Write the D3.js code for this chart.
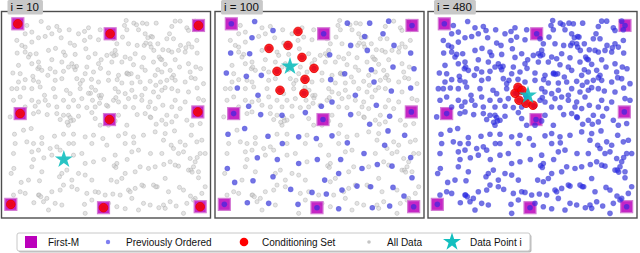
<!DOCTYPE html>
<html>
<head>
<meta charset="utf-8">
<script src="https://cdn.jsdelivr.net/npm/d3@7"></script>
<style>
  body { margin: 0; background: #fff; }
  svg { display: block; font-family: "Liberation Sans", Arial, sans-serif; }
</style>
</head>
<body>
<div id="chart"></div>
<script>
var svgWidth = 640;
var svgHeight = 253;

// point positions (units: x 9..636, y 33..654 across a panel)
var firstM = [[58,70],[335,100],[600,75],[65,340],[333,358],[598,335],[37,613],[315,623],[605,620]];

var ordered100 = [
  [128,63],[183,90],[120,112],[56,158],[113,160],[43,218],[103,228],[148,225],[76,263],[138,285],[110,318],
  [406,68],[473,68],[530,62],[513,100],[458,108],[416,135],[466,150],[546,135],[596,158],[353,163],[398,220],
  [356,238],[478,208],[543,200],[606,205],[486,245],[538,272],[596,263],[430,285],[360,305],[493,315],[328,318],
  [258,93],[171,144],[228,135],[270,171],[195,213],[306,204],[279,237],[204,270],[276,279],
  [146,343],[210,345],[280,337],[416,343],[533,348],[473,372],[98,385],[48,402],[168,408],[260,410],[313,415],
  [360,407],[528,392],[578,405],[211,430],[406,428],[518,435],[456,460],[136,473],[196,478],[260,490],[316,478],
  [386,478],[496,493],[540,498],[596,472],[46,505],[380,520],[450,505],[600,533],[183,530],[68,547],[123,542],
  [338,540],[236,568],[300,577],[343,582],[390,570],[435,558],[476,560],[543,562],[576,588],[106,608],[170,610],
  [258,613],[380,626],[481,623],[533,618]
];

var laterPoints = [
  [234,198],
  [85,75],[100,95],[80,100],[150,82],[175,78],[212,88],[240,100],[270,82],[305,88],[383,60],[378,75],[414,73],
  [432,68],[445,70],[420,88],[385,88],[462,110],[545,62],[520,78],[565,82],[570,90],[590,62],[595,88],
  [55,120],[70,135],[100,125],[140,108],[160,100],[188,112],[215,128],[258,120],[275,110],[262,145],[300,118],
  [345,115],[355,130],[372,110],[350,150],[390,130],[437,135],[455,130],[478,130],[505,115],[525,115],[570,130],
  [595,120],[493,148],[510,150],
  [80,155],[95,162],[150,150],[195,155],[200,165],[230,162],[290,160],[325,165],[380,170],[395,175],[410,160],
  [435,172],[465,185],[482,170],[490,178],[520,155],[540,150],[560,155],[580,140],[100,190],[120,185],[160,178],
  [190,185],[220,190],[265,200],[300,190],[340,185],[370,185],[405,193],[430,200],[500,192],[530,178],[570,190],
  [65,220],[130,210],[155,205],[170,215],[210,200],[230,208],[260,220],[285,215],[330,218],[360,225],[385,220],
  [418,230],[440,210],[470,225],[490,215],[515,210],[525,225],[575,215],[60,245],[80,238],[105,240],[120,245],
  [170,240],[190,235],[235,235],[245,250],[300,245],[330,240],[370,248],[400,248],[425,245],[455,243],[505,240],
  [530,240],[560,245],[590,235],
  [55,265],[100,265],[125,260],[165,265],[215,280],[245,265],[279,261],[350,265],[360,275],[380,280],[400,270],
  [410,290],[440,265],[465,275],[490,270],[520,265],[570,275],[45,300],[65,290],[100,300],[120,305],[140,300],
  [170,290],[195,300],[225,300],[250,295],[345,300],[390,295],[430,300],[455,305],[480,290],[530,300],[560,305],
  [600,295],[80,320],[150,315],[175,320],[210,320],[240,318],[265,322],[290,320],[380,320],[405,322],[450,320],
  [470,325],[520,320],[545,325],[270,279],[282,300],[303,309],[324,315],[291,270],
  [105,340],[120,335],[175,340],[195,345],[215,352],[225,360],[240,348],[290,355],[305,375],[330,375],[350,362],
  [360,345],[385,375],[440,340],[455,350],[490,360],[505,345],[520,365],[565,360],[580,375],[605,370],[210,375],
  [185,358],
  [75,390],[85,425],[105,430],[130,412],[195,402],[225,402],[285,405],[280,430],[325,435],[380,400],[405,410],
  [380,430],[435,405],[470,395],[500,400],[495,420],[545,425],[595,425],[610,420],[50,430],[130,430],[155,445],
  [175,440],[225,430],
  [45,460],[100,455],[120,450],[160,465],[185,450],[225,465],[250,460],[285,485],[350,465],[355,490],[400,455],
  [420,450],[490,460],[515,485],[525,445],[540,460],[555,455],[575,475],[590,485],[605,460],[560,435],[105,478],
  [100,500],[130,515],[190,520],[205,510],[220,540],[240,520],[260,525],[280,540],[355,545],[370,535],[410,515],
  [425,500],[470,500],[500,535],[530,495],[570,510],[585,500],[600,515],[90,540],
  [45,585],[65,575],[80,580],[120,585],[145,595],[160,575],[185,570],[195,555],[220,560],[265,580],[290,575],
  [320,585],[365,585],[395,575],[410,565],[430,555],[465,555],[510,575],[555,570],[590,595],[610,580],[135,605],
  [190,615],[280,600],[330,610],[355,620],[400,595],[435,610],[455,615],[495,615],[515,605],[565,610],[585,600],
  [500,625],
  [440,100],[448,112],[442,128],[458,140],[340,160],[346,166],[386,218],[391,222],[118,205],[122,200],[226,200],
  [80,140],[90,170],[308,178],[486,176],[562,142],[352,292],[302,286],[306,293],[592,200],[578,232],[520,232],
  [500,262],[472,255],[252,240],[217,362],[206,366],[457,352],[502,372],[347,497],[352,502],[577,510],[581,516],
  [122,585],[127,590],[472,560],[60,195],[40,265],[615,250],[615,300],[35,350],[620,460],[38,520],[620,560],
  [150,630],[420,630],[260,640],[555,640]
];

var notOrdered = [[309,285]];

var panelIndex = [10, 100, 480];
var dataPointI = [[196,478],[234,198],[309,285]];
var condSet100 = [[258,93],[171,144],[228,135],[270,171],[195,213],[306,204],[279,237],[204,270],[276,279]];
var condSet480 = [[279,261],[270,279],[282,300],[303,309],[324,315],[291,270]];
var condSets = [firstM, condSet100, condSet480];

var legendLabels = ["First-M", "Previously Ordered", "Conditioning Set", "All Data", "Data Point i"];

var panelX = [1.5, 215, 428];
var panelY = 11.5;
var panelW = 209;
var panelH = 206.5;

var svg = d3.select("#chart")
  .append("svg")
  .attr("width", svgWidth)
  .attr("height", svgHeight);

var xScale = d3.scaleLinear().domain([9, 636]).range([0, panelW]);
var yScale = d3.scaleLinear().domain([33, 654]).range([0, panelH]);

var starPath = d3.symbol().type(d3.symbolStar).size(100)();

var groups = [firstM, ordered100, laterPoints];
var allData = firstM.concat(ordered100, laterPoints, notOrdered);

panelIndex.forEach(function(idx, p) {
  var g = svg.append("g")
    .attr("transform", `translate(${panelX[p]}, ${panelY})`);

  g.append("rect")
    .attr("width", panelW)
    .attr("height", panelH)
    .attr("fill", "#fff")
    .attr("stroke", "#4d4d4d")
    .attr("stroke-width", 1.4);

  // all data
  g.append("g").selectAll("circle")
    .data(allData)
    .enter()
    .append("circle")
    .attr("cx", d => xScale(d[0]))
    .attr("cy", d => yScale(d[1]))
    .attr("r", 2.1)
    .attr("fill", "#d2d2d2")
    .attr("fill-opacity", 0.6)
    .attr("stroke", "#9a9a9a")
    .attr("stroke-opacity", 0.55)
    .attr("stroke-width", 0.6);

  // first-M squares
  g.append("g").selectAll("rect")
    .data(firstM)
    .enter()
    .append("rect")
    .attr("x", d => xScale(d[0]) - 6)
    .attr("y", d => yScale(d[1]) - 6)
    .attr("width", 12)
    .attr("height", 12)
    .attr("fill", "#bb00bb")
    .attr("fill-opacity", 0.85)
    .attr("stroke", "#d47ad4")
    .attr("stroke-width", 1.2);

  // previously ordered
  var prev = [];
  for (var k = 0; k <= p; k++) prev = prev.concat(groups[k]);
  g.append("g").selectAll("circle")
    .data(prev)
    .enter()
    .append("circle")
    .attr("cx", d => xScale(d[0]))
    .attr("cy", d => yScale(d[1]))
    .attr("r", 2.8)
    .attr("fill", "#2a2ae8")
    .attr("fill-opacity", 0.6);

  // conditioning set
  g.append("g").selectAll("circle")
    .data(condSets[p])
    .enter()
    .append("circle")
    .attr("cx", d => xScale(d[0]))
    .attr("cy", d => yScale(d[1]))
    .attr("r", 4.3)
    .attr("fill", "#ff0000")
    .attr("fill-opacity", 0.85)
    .attr("stroke", "#e00000")
    .attr("stroke-width", 0.8);

  // data point i
  g.append("path")
    .attr("d", starPath)
    .attr("transform", `translate(${xScale(dataPointI[p][0])}, ${yScale(dataPointI[p][1])})`)
    .attr("fill", "#12bfbf")
    .attr("fill-opacity", 0.9);

  // title box
  var title = g.append("g").attr("transform", "translate(6, -11.5)");
  var label = "i = " + idx;
  var txt = title.append("text")
    .attr("x", 3)
    .attr("y", 11)
    .attr("font-size", "11.5")
    .attr("fill", "#111")
    .text(label);
  var tw = txt.node().getComputedTextLength();
  title.insert("rect", "text")
    .attr("width", tw + 7)
    .attr("height", 14.5)
    .attr("rx", 1.5)
    .attr("fill", "#c8c8c8");
});

// legend
var legend = svg.append("g");
legend.append("rect")
  .attr("x", 18.5).attr("y", 234.5)
  .attr("width", 513).attr("height", 18)
  .attr("rx", 2)
  .attr("fill", "#bbb");
legend.append("rect")
  .attr("x", 17).attr("y", 233)
  .attr("width", 513).attr("height", 18)
  .attr("rx", 2)
  .attr("fill", "#fff")
  .attr("stroke", "#c8c8c8")
  .attr("stroke-width", 1);

var ly = 242;
var markerX = [31, 108, 244, 369, 452];
var textX = [48, 126, 262, 387, 470];

legend.append("rect")
  .attr("x", markerX[0] - 6).attr("y", ly - 6)
  .attr("width", 12).attr("height", 12)
  .attr("fill", "#bb00bb");
legend.append("circle")
  .attr("cx", markerX[1]).attr("cy", ly).attr("r", 2.2)
  .attr("fill", "#2a2ae8").attr("fill-opacity", 0.6);
legend.append("circle")
  .attr("cx", markerX[2]).attr("cy", ly).attr("r", 4.3)
  .attr("fill", "#ff0000");
legend.append("circle")
  .attr("cx", markerX[3]).attr("cy", ly).attr("r", 1.8)
  .attr("fill", "#c4c4c4");
legend.append("path")
  .attr("d", starPath)
  .attr("transform", `translate(${markerX[4]}, ${ly})`)
  .attr("fill", "#12bfbf");

legend.selectAll("text.lab")
  .data(legendLabels)
  .enter()
  .append("text")
  .attr("class", "lab")
  .attr("x", (d, i) => textX[i])
  .attr("y", ly + 3.6)
  .attr("font-size", "10")
  .attr("fill", "#111")
  .text(d => d);
</script>
</body>
</html>
